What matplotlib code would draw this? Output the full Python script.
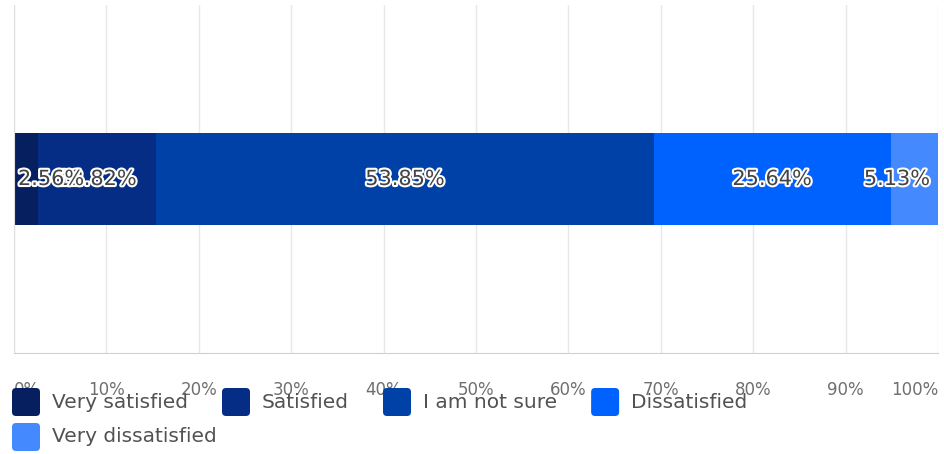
import matplotlib
matplotlib.use("Agg")
import matplotlib.pyplot as plt
import matplotlib.patheffects as pe
from matplotlib.patches import FancyBboxPatch
from matplotlib.transforms import IdentityTransform

# data
categories = ['Very satisfied', 'Satisfied', 'I am not sure', 'Dissatisfied', 'Very dissatisfied']
values = [2.56, 12.82, 53.85, 25.64, 5.13]
colors = ['#061f5e', '#062d86', '#0041a8', '#0062fe', '#4589ff']
tick_vals = [0, 10, 20, 30, 40, 50, 60, 70, 80, 90, 100]
tick_labels = ['0%', '10%', '20%', '30%', '40%', '50%', '60%', '70%', '80%', '90%', '100%']

W, H = 944, 454
fig = plt.figure(figsize=(W / 100, H / 100), dpi=100)
ax = fig.add_axes([14 / W, 1 - 353 / H, 924 / W, 348 / H])

left = 0
bar_texts = []
for i, (cat, v, c) in enumerate(zip(categories, values, colors)):
    ax.barh(0, v, left=left, height=0.8, color=c, zorder=2)
    # earlier labels sit on top, as in the original
    t = ax.text(left + v / 2, 0, f'{v:.2f}%', ha='center', va='center',
                fontsize=15, color='#444444', zorder=10 - i,
                path_effects=[pe.withStroke(linewidth=3, foreground='white')])
    bar_texts.append(t)
    left += v

ax.set_xlim(0, 100)
ax.set_ylim(-1.5, 1.5)
ax.set_yticks([])
ax.set_xticks(tick_vals)
ax.set_xticklabels(tick_labels, fontsize=12, color='#6f6f6f')
ax.tick_params(axis='x', length=0, pad=20)
labs = ax.get_xticklabels()
labs[0].set_ha('left')
labs[-1].set_ha('right')
ax.grid(axis='x', color='#e8e8e8', linewidth=1, zorder=0)
for s in ['top', 'right']:
    ax.spines[s].set_visible(False)
ax.spines['left'].set_color('#e0e0e0')
ax.spines['bottom'].set_color('#d0d0d0')

fig.canvas.draw()
r = fig.canvas.get_renderer()

# keep bar labels inside the plot area
abox = ax.get_window_extent(r)
inv = ax.transData.inverted()
for t in bar_texts:
    bb = t.get_window_extent(r)
    shift = 0
    if bb.x0 < abox.x0 + 4:
        shift = abox.x0 + 4 - bb.x0
    elif bb.x1 > abox.x1 - 8:
        shift = abox.x1 - 8 - bb.x1
    if shift:
        x0 = inv.transform((0, 0))[0]
        x1 = inv.transform((shift, 0))[0]
        t.set_x(t.get_position()[0] + (x1 - x0))

# legend laid out as a wrapping row
x = 12
y = 402  # row center, from top
sq = 28
for cat, c in zip(categories, colors):
    tt = fig.text(0, 0, cat, fontsize=14.5, color='#525252', va='center')
    tw = tt.get_window_extent(r).width
    if x + sq + 12 + tw > W:
        x = 12
        y += 35
    fig.patches.append(FancyBboxPatch((x, H - y - sq / 2), sq, sq,
                                      boxstyle='round,pad=0,rounding_size=4',
                                      facecolor=c, edgecolor='none',
                                      transform=IdentityTransform()))
    tt.set_position(((x + sq + 12) / W, 1 - y / H))
    x += sq + 12 + tw + 34

fig.savefig('out.png', dpi=100)
